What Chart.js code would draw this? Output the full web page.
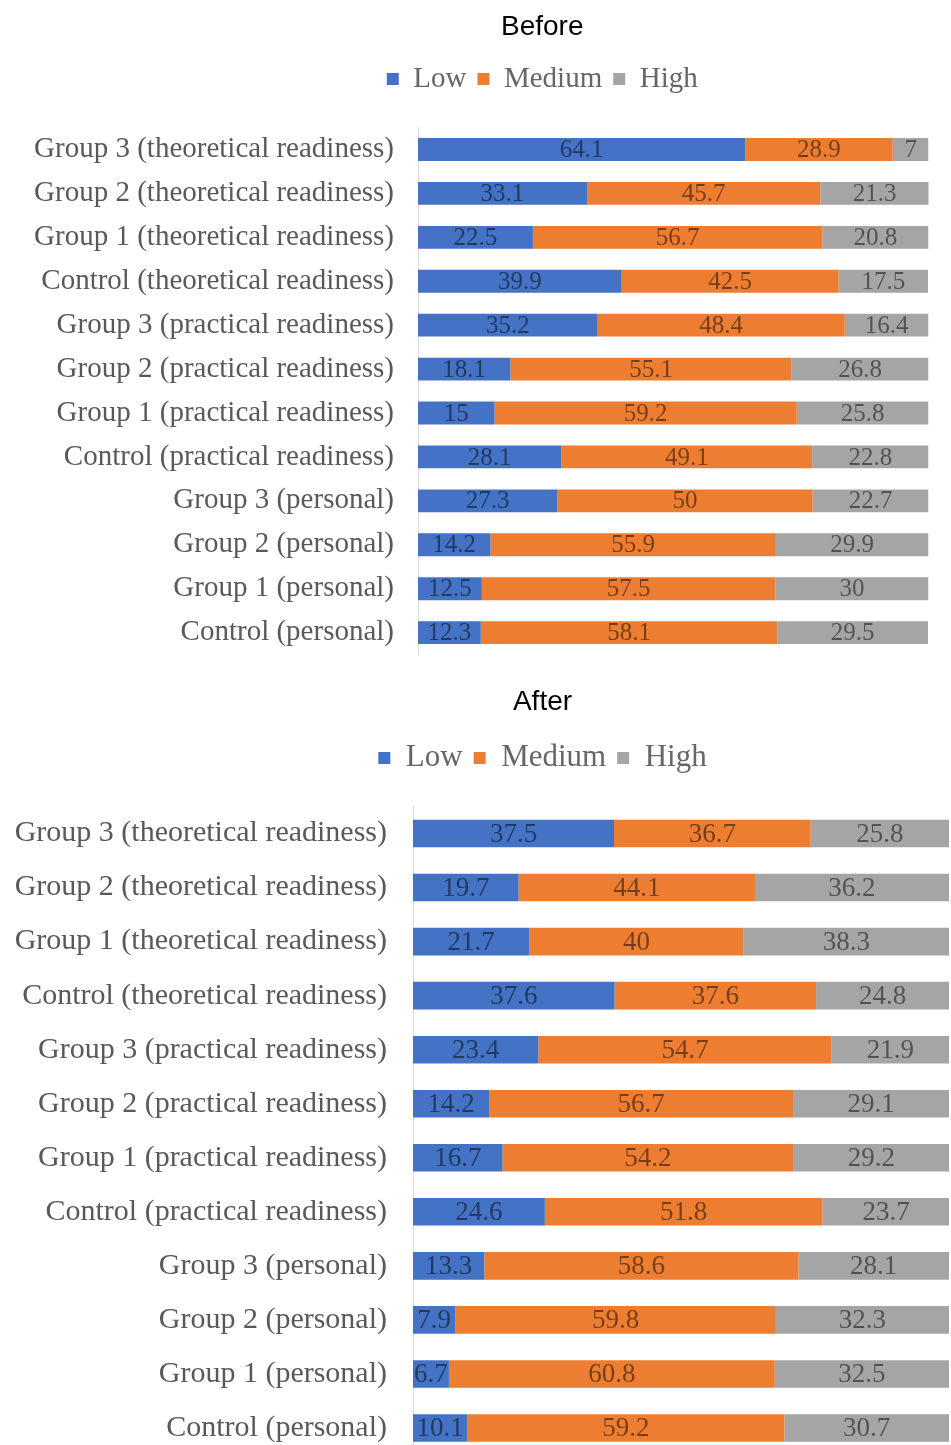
<!DOCTYPE html>
<html>
<head>
<meta charset="utf-8">
<script src="https://cdn.jsdelivr.net/npm/chart.js@4.4.1/dist/chart.umd.min.js"></script>
<style>
  html, body { margin: 0; padding: 0; background: #ffffff; overflow: hidden; }
  .panel { position: relative; width: 951px; }
</style>
</head>
<body>
<div class="panel" style="height:672px"><canvas id="beforeChart"></canvas></div>
<div class="panel" style="height:801px"><canvas id="afterChart"></canvas></div>
<script>
// Readiness components per group, listed top to bottom
const categories = [
  'Group 3 (theoretical readiness)',
  'Group 2 (theoretical readiness)',
  'Group 1 (theoretical readiness)',
  'Control (theoretical readiness)',
  'Group 3 (practical readiness)',
  'Group 2 (practical readiness)',
  'Group 1 (practical readiness)',
  'Control (practical readiness)',
  'Group 3 (personal)',
  'Group 2 (personal)',
  'Group 1 (personal)',
  'Control (personal)'
];
const levels = ['Low', 'Medium', 'High'];

// Share of respondents (%) before the experiment
const beforeLow    = [64.1, 33.1, 22.5, 39.9, 35.2, 18.1, 15, 28.1, 27.3, 14.2, 12.5, 12.3];
const beforeMedium = [28.9, 45.7, 56.7, 42.5, 48.4, 55.1, 59.2, 49.1, 50, 55.9, 57.5, 58.1];
const beforeHigh   = [7, 21.3, 20.8, 17.5, 16.4, 26.8, 25.8, 22.8, 22.7, 29.9, 30, 29.5];

// Share of respondents (%) after the experiment
const afterLow    = [37.5, 19.7, 21.7, 37.6, 23.4, 14.2, 16.7, 24.6, 13.3, 7.9, 6.7, 10.1];
const afterMedium = [36.7, 44.1, 40, 37.6, 54.7, 56.7, 54.2, 51.8, 58.6, 59.8, 60.8, 59.2];
const afterHigh   = [25.8, 36.2, 38.3, 24.8, 21.9, 29.1, 29.2, 23.7, 28.1, 32.3, 32.5, 30.7];

const levelColors = ['#4472C4', '#ED7D31', '#A5A5A5'];

const SERIF = '"Liberation Serif", "Times New Roman", serif';
const SANS = '"Liberation Sans", Arial, sans-serif';

// Writes each segment's value in the middle of its bar
const segmentLabels = {
  id: 'segmentLabels',
  afterDatasetsDraw(chart, args, opts) {
    const ctx = chart.ctx;
    ctx.save();
    ctx.font = opts.size + 'px ' + SERIF;
    ctx.textAlign = 'center';
    ctx.textBaseline = 'middle';
    ctx.fillStyle = opts.color;
    chart.data.datasets.forEach((ds, i) => {
      const meta = chart.getDatasetMeta(i);
      meta.data.forEach((bar, j) => {
        const p = bar.getCenterPoint();
        ctx.fillText(String(ds.data[j]), p.x, p.y + 1);
      });
    });
    ctx.restore();
  }
};

// Moves the title and legend sideways after layout
const headerShift = {
  id: 'headerShift',
  afterLayout(chart, args, opts) {
    const dx = opts.dx || 0;
    [chart.titleBlock, chart.legend].forEach(box => {
      if (box) { box.left += dx; box.right += dx; }
    });
  }
};

function buildChart(canvasId, title, low, medium, high, s) {
  const series = [low, medium, high];
  return new Chart(document.getElementById(canvasId), {
    type: 'bar',
    data: {
      labels: categories,
      datasets: levels.map((name, i) => ({
        label: name,
        data: series[i],
        backgroundColor: levelColors[i],
        borderWidth: 0
      }))
    },
    options: {
      indexAxis: 'y',
      responsive: true,
      maintainAspectRatio: false,
      animation: false,
      layout: { padding: { left: 0, right: s.padRight, top: 0, bottom: 0 } },
      datasets: { bar: { categoryPercentage: 1, barPercentage: s.barPct } },
      scales: {
        x: {
          stacked: true, min: 0, max: 100, position: 'top', display: true,
          ticks: { display: false },
          grid: { display: false, drawTicks: false },
          border: { display: false },
          afterFit(sc) { sc.height = s.gap; }
        },
        y: {
          stacked: true,
          grid: { display: false, drawTicks: true, tickLength: s.tickGap },
          border: { display: true, color: '#d9d9d9', width: 1 },
          ticks: { color: '#595959', font: { family: SERIF, size: s.tickSize }, padding: 0, autoSkip: false },
          afterFit(sc) { sc.width = s.axisX; }
        }
      },
      plugins: {
        title: {
          display: true, text: title, color: '#000000',
          font: { family: SANS, size: 28, weight: 'normal', lineHeight: 1.2 },
          padding: { top: s.titleTop, bottom: s.titleBottom }
        },
        legend: {
          display: true, position: 'top',
          labels: {
            boxWidth: 12, boxHeight: 12, padding: 11, color: '#666666',
            font: { family: SERIF, size: s.legendSize }
          }
        },
        tooltip: { enabled: false },
        headerShift: { dx: s.headerDx },
        segmentLabels: { size: s.valueSize, color: 'rgba(0,0,0,0.5)' }
      }
    },
    plugins: [segmentLabels, headerShift]
  });
}

buildChart('beforeChart', 'Before', beforeLow, beforeMedium, beforeHigh, {
  padRight: 22.5, barPct: 0.52, gap: 24,
  tickSize: 29, tickGap: 24, axisX: 418,
  titleTop: 10, titleBottom: 9.9, legendSize: 29, valueSize: 25, headerDx: 78
});

buildChart('afterChart', 'After', afterLow, afterMedium, afterHigh, {
  padRight: 2, barPct: 0.51, gap: 23,
  tickSize: 30, tickGap: 26, axisX: 413,
  titleTop: 13.2, titleBottom: 12.7, legendSize: 31, valueSize: 27, headerDx: 68
});
</script>
</body>
</html>
